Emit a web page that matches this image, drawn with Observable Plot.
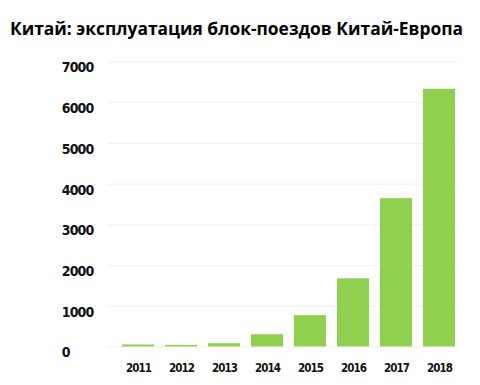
<!DOCTYPE html>
<html><head><meta charset="utf-8">
<script src="https://cdn.jsdelivr.net/npm/d3@7"></script>
<script src="https://cdn.jsdelivr.net/npm/@observablehq/plot@0.6"></script>
<style>
body{margin:0;background:#fff;}
#title{height:48px;box-sizing:border-box;padding:19px 0 0 10px;font:bold 17.4px "Open Sans",sans-serif;color:#000;white-space:nowrap;letter-spacing:0;line-height:18px;}
svg text{font-stretch:condensed;}
svg g[aria-label="y-axis tick label"] text{letter-spacing:-0.9px;}
svg g[aria-label="x-axis tick label"] text{letter-spacing:-1px;}
</style></head><body>
<div id="title">Китай: эксплуатация блок-поездов Китай-Европа</div>
<div id="chart"></div>
<script>
const years = ["2011","2012","2013","2014","2015","2016","2017","2018"];
const trains = [50, 40, 80, 300, 770, 1675, 3645, 6330];
const yTicks = [0,1000,2000,3000,4000,5000,6000,7000];
const data = years.map((y,i)=>({year:y, value:trains[i]}));
const chart = Plot.plot({
  width:480, height:337,
  marginTop:13.5, marginBottom:38.5, marginLeft:115.3, marginRight:17.3,
  style:{fontFamily:"'DejaVu Sans Condensed', 'Liberation Sans Narrow', sans-serif", background:"#fff"},
  x:{domain:years, paddingInner:0.25, paddingOuter:0.125, label:null},
  y:{domain:[0,7000], label:null},
  marks:[
    Plot.ruleY(yTicks, {stroke:"#f0f0f0", strokeWidth:1, insetLeft:-8, insetRight:5}),
    Plot.barY(data, {x:"year", y:"value", fill:"#8fd14f"}),
    Plot.axisY(yTicks, {tickSize:0, tickPadding:54, textAnchor:"start", dy:6, fontSize:14, fontWeight:"bold", fill:"#111", tickFormat:d3.format("d"), label:null}),
    Plot.axisX({tickSize:0, tickPadding:17, fontSize:11.5, fontWeight:"bold", fill:"#111", label:null})
  ]
});
document.getElementById("chart").append(chart);
</script>
</body></html>
